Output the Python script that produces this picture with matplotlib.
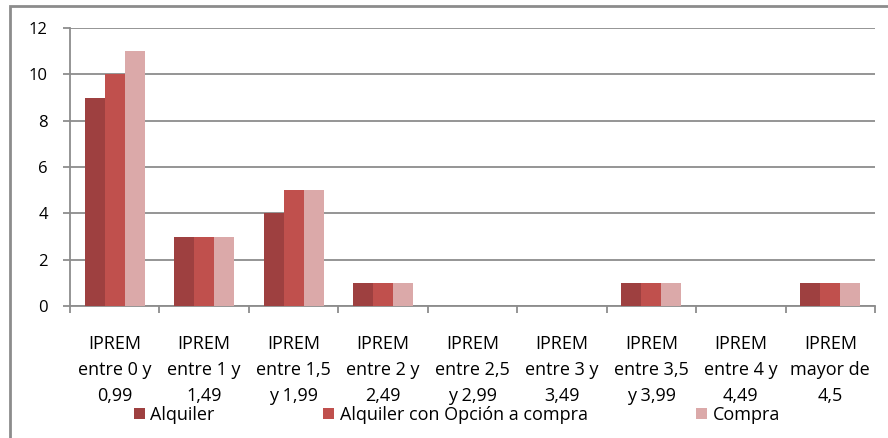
import matplotlib.pyplot as plt
from matplotlib.patches import Rectangle
import numpy as np

plt.rcParams['font.family'] = ['Open Sans', 'DejaVu Sans']

# data
categories = ['IPREM\nentre 0 y\n0,99', 'IPREM\nentre 1 y\n1,49', 'IPREM\nentre 1,5\ny 1,99',
              'IPREM\nentre 2 y\n2,49', 'IPREM\nentre 2,5\ny 2,99', 'IPREM\nentre 3 y\n3,49',
              'IPREM\nentre 3,5\ny 3,99', 'IPREM\nentre 4 y\n4,49', 'IPREM\nmayor de\n4,5']
alquiler = [9, 3, 4, 1, 0, 0, 1, 0, 1]
alquiler_opcion = [10, 3, 5, 1, 0, 0, 1, 0, 1]
compra = [11, 3, 5, 1, 0, 0, 1, 0, 1]
series_names = ['Alquiler', 'Alquiler con Opción a compra', 'Compra']
colors = ['#9e4040', '#c0504d', '#dba9a9']

fig = plt.figure(figsize=(8.88, 4.38), dpi=100)
ax = fig.add_axes([70/888, 1 - 306/438, 805/888, 278/438])

# outer chart border
fig.patches.append(Rectangle((10/888, -0.05), 1.1, 1.05 - 6/438, transform=fig.transFigure,
                             fill=False, edgecolor='#8c8c8c', linewidth=2))

x = np.arange(len(categories))
w = 0.224
for i, (vals, name) in enumerate(zip([alquiler, alquiler_opcion, compra], series_names)):
    ax.bar(x + (i - 1) * w, vals, width=w, color=colors[i], label=name, zorder=3,
           linewidth=0)

ax.set_xlim(-0.5, len(categories) - 0.5)
ax.set_ylim(0, 12)
ax.set_yticks(range(0, 13, 2))
ax.yaxis.grid(True, color='#8c8c8c', linewidth=1.3, zorder=0)
ax.set_axisbelow(True)

for s in ['top', 'right']:
    ax.spines[s].set_visible(False)
for s in ['left', 'bottom']:
    ax.spines[s].set_color('#8c8c8c')
    ax.spines[s].set_linewidth(1.3)

ax.set_xticks(x)
ax.set_xticklabels(categories, fontsize=13, linespacing=1.55)
ax.set_xticks(np.arange(-0.5, len(categories)), minor=True)
ax.tick_params(axis='x', which='major', length=0, pad=21)
ax.tick_params(axis='x', which='minor', length=5, color='#8c8c8c', width=1.3)
ax.tick_params(axis='y', length=5, color='#8c8c8c', width=1.3, labelsize=12, pad=11)

fig.legend(loc='center', bbox_to_anchor=(457/888, 1 - 415/438), ncol=3, frameon=False,
           fontsize=13, handlelength=0.62, handleheight=0.62, handletextpad=0.3,
           columnspacing=6.0, borderpad=0)

fig.savefig('out.png', dpi=100)
